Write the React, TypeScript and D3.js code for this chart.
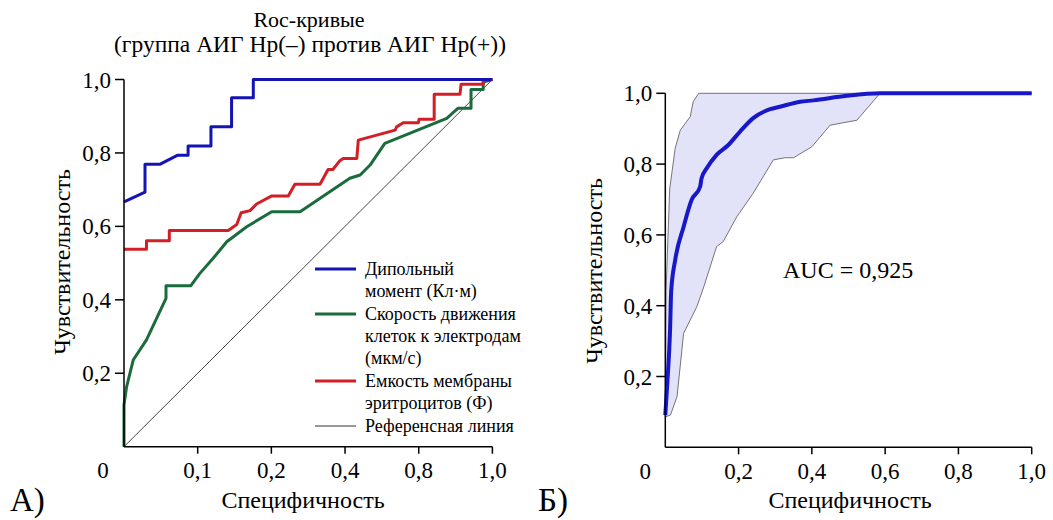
import React from "react";
import * as d3 from "d3";

// ---------- Data (x = 1 - specificity, y = sensitivity) ----------
const dipoleX = [0, 0.057, 0.057, 0.097, 0.146, 0.174, 0.174, 0.236, 0.236, 0.292, 0.292, 0.351, 0.351, 1.0];
const dipoleY = [0.667, 0.693, 0.769, 0.769, 0.794, 0.794, 0.819, 0.819, 0.871, 0.871, 0.95, 0.95, 1.0, 1.0];

const velocityX = [0, 0, 0.007, 0.025, 0.061, 0.114, 0.114, 0.181, 0.206, 0.242, 0.279, 0.333, 0.401, 0.478, 0.613, 0.641, 0.668, 0.708, 0.876, 0.907, 0.942, 0.942, 0.975, 0.975, 1.0];
const velocityY = [0, 0.114, 0.163, 0.236, 0.291, 0.404, 0.438, 0.438, 0.472, 0.513, 0.558, 0.599, 0.64, 0.64, 0.731, 0.74, 0.767, 0.826, 0.894, 0.922, 0.922, 0.973, 0.973, 0.993, 1.0];

const capacitanceX = [0, 0.061, 0.061, 0.123, 0.123, 0.283, 0.306, 0.318, 0.342, 0.36, 0.401, 0.446, 0.464, 0.532, 0.554, 0.567, 0.586, 0.595, 0.632, 0.636, 0.736, 0.74, 0.758, 0.799, 0.801, 0.842, 0.842, 0.912, 0.915, 0.975, 0.975, 1.0];
const capacitanceY = [0.538, 0.538, 0.561, 0.561, 0.589, 0.589, 0.605, 0.637, 0.643, 0.661, 0.683, 0.683, 0.715, 0.715, 0.755, 0.755, 0.779, 0.785, 0.785, 0.835, 0.862, 0.871, 0.882, 0.882, 0.892, 0.892, 0.96, 0.96, 0.987, 0.987, 1.0, 1.0];

const meanX = [0, 0.006, 0.013, 0.016, 0.027, 0.05, 0.072, 0.095, 0.099, 0.113, 0.14, 0.172, 0.204, 0.24, 0.286, 0.313, 0.368, 0.404, 0.495, 0.586, 1.0];
const meanY = [0.091, 0.19, 0.331, 0.44, 0.529, 0.623, 0.699, 0.736, 0.76, 0.788, 0.826, 0.854, 0.892, 0.93, 0.955, 0.962, 0.976, 0.98, 0.993, 1.0, 1.0];

const upperX = [0, 0.002, 0.012, 0.027, 0.041, 0.068, 0.076, 0.091, 1.0];
const upperY = [0.086, 0.44, 0.73, 0.845, 0.896, 0.934, 0.976, 1.0, 1.0];

const lowerX = [0, 0.014, 0.032, 0.05, 0.086, 0.104, 0.14, 0.158, 0.195, 0.24, 0.295, 0.327, 0.35, 0.4, 0.45, 0.523, 0.586, 1.0];
const lowerY = [0.086, 0.091, 0.143, 0.322, 0.397, 0.45, 0.567, 0.581, 0.651, 0.718, 0.812, 0.818, 0.818, 0.849, 0.91, 0.924, 1.0, 1.0];

const yTickValues = [0.2, 0.4, 0.6, 0.8, 1.0];
const yTickLabels = ["0,2", "0,4", "0,6", "0,8", "1,0"];
const leftXTickValues = [0.2, 0.4, 0.6, 0.8, 1.0];
const leftXTickLabels = ["0,1", "0,2", "0,4", "0,8", "1,0"];
const rightXTickValues = [0.2, 0.4, 0.6, 0.8, 1.0];
const rightXTickLabels = ["0,2", "0,4", "0,6", "0,8", "1,0"];

const legendItems = [
  { lines: ["Дипольный", "момент (Кл·м)"], color: "#1414b4", width: 3 },
  { lines: ["Скорость движения", "клеток к электродам", "(мкм/с)"], color: "#1b6b3c", width: 3 },
  { lines: ["Емкость мембраны", "эритроцитов (Ф)"], color: "#d21f26", width: 3 },
  { lines: ["Референсная линия"], color: "#333", width: 1 },
];

const FONT = '"Liberation Serif", "DejaVu Serif", serif';

const zip = (xs: number[], ys: number[]) => xs.map((x, i) => [x, ys[i]] as [number, number]);

export default function App() {
  const xL = d3.scaleLinear().domain([0, 1]).range([124, 492.4]);
  const yL = d3.scaleLinear().domain([0, 1]).range([446.7, 79.5]);
  const xR = d3.scaleLinear().domain([0, 1]).range([665.3, 1031.7]);
  const yR = d3.scaleLinear().domain([0, 1]).range([447.3, 93.3]);

  const lineL = d3.line<[number, number]>().x((d) => xL(d[0])).y((d) => yL(d[1]));
  const lineR = d3.line<[number, number]>().x((d) => xR(d[0])).y((d) => yR(d[1]));
  const smoothR = d3.line<[number, number]>().x((d) => xR(d[0])).y((d) => yR(d[1])).curve(d3.curveMonotoneX);

  const bandPts = zip(upperX, upperY).concat(zip(lowerX, lowerY).reverse());
  const bandPath = (lineR(bandPts) || "") + "Z";

  const tickFont = 23;
  const labelFont = 24;
  const tf = { fontFamily: FONT };

  const legendLineH = 22;
  let legendY = 269;
  const legendRows: { y: number; item: typeof legendItems[0] }[] = [];
  legendItems.forEach((it) => {
    legendRows.push({ y: legendY, item: it });
    legendY += it.lines.length * legendLineH + 1;
  });

  return (
    <svg
      width={1053}
      height={520}
      style={{ position: "absolute", left: 0, top: 0, background: "#fff", fontFamily: FONT }}
    >
      <rect x={0} y={0} width={1053} height={520} fill="#fff" />
      {/* ---------- Left panel ---------- */}
      <text style={tf} x={309} y={27} fontSize={22} textAnchor="middle">Roc-кривые</text>
      <text style={tf} x={310} y={52} fontSize={23.5} textAnchor="middle">(группа АИГ Hp(–) против АИГ Hp(+))</text>

      <line x1={xL(0)} y1={yL(0)} x2={xL(1)} y2={yL(1)} stroke="#333" strokeWidth={0.9} />
      <path d={lineL(zip(velocityX, velocityY)) || ""} fill="none" stroke="#1b6b3c" strokeWidth={3} strokeLinejoin="round" />
      <path d={lineL(zip(capacitanceX, capacitanceY)) || ""} fill="none" stroke="#d21f26" strokeWidth={3} strokeLinejoin="round" />
      <path d={lineL(zip(dipoleX, dipoleY)) || ""} fill="none" stroke="#1414b4" strokeWidth={3} strokeLinejoin="round" />

      <line x1={xL(0)} y1={yL(0)} x2={xL(0)} y2={yL(1)} stroke="#000" strokeWidth={1.5} />
      <line x1={xL(0)} y1={yL(0)} x2={xL(1)} y2={yL(0)} stroke="#000" strokeWidth={1.5} />
      {yTickValues.map((v, i) => (
        <g key={"ly" + i}>
          <line x1={xL(0) - 9} x2={xL(0)} y1={yL(v)} y2={yL(v)} stroke="#000" strokeWidth={1.5} />
          <text style={tf} x={xL(0) - 13} y={yL(v)} dy="0.35em" fontSize={tickFont} textAnchor="end">{yTickLabels[i]}</text>
        </g>
      ))}
      {leftXTickValues.map((v, i) => (
        <g key={"lx" + i}>
          <line x1={xL(v)} x2={xL(v)} y1={yL(0)} y2={yL(0) + 7} stroke="#000" strokeWidth={1.5} />
          <text style={tf} x={xL(v)} y={478} fontSize={tickFont} textAnchor="middle">{leftXTickLabels[i]}</text>
        </g>
      ))}
      <text style={tf} x={xL(0) - 21} y={478} fontSize={tickFont} textAnchor="middle">0</text>
      <text style={tf} x={303} y={508} fontSize={labelFont} textAnchor="middle">Специфичность</text>
      <text style={tf} transform="translate(70,262) rotate(-90)" fontSize={labelFont} textAnchor="middle">Чувствительность</text>
      <text style={tf} x={10} y={511} fontSize={33}>А)</text>

      {legendRows.map((r, i) => (
        <g key={"lg" + i}>
          <line x1={315} x2={356} y1={r.y} y2={r.y} stroke={r.item.color} strokeWidth={r.item.width} />
          {r.item.lines.map((t, j) => (
            <text style={tf} key={j} x={365} y={r.y + j * legendLineH} dy="0.35em" fontSize={18}>{t}</text>
          ))}
        </g>
      ))}

      {/* ---------- Right panel ---------- */}
      <path d={bandPath} fill="#e2e2f8" stroke="#555" strokeWidth={0.8} strokeLinejoin="round" />
      <path d={smoothR(zip(meanX, meanY)) || ""} fill="none" stroke="#1818c8" strokeWidth={4} strokeLinejoin="round" />

      <line x1={xR(0)} y1={yR(0)} x2={xR(0)} y2={yR(1)} stroke="#000" strokeWidth={1.5} />
      <line x1={xR(0)} y1={yR(0)} x2={xR(1)} y2={yR(0)} stroke="#000" strokeWidth={1.5} />
      {yTickValues.map((v, i) => (
        <g key={"ry" + i}>
          <line x1={xR(0) - 9} x2={xR(0)} y1={yR(v)} y2={yR(v)} stroke="#000" strokeWidth={1.5} />
          <text style={tf} x={xR(0) - 13} y={yR(v)} dy="0.35em" fontSize={tickFont} textAnchor="end">{yTickLabels[i]}</text>
        </g>
      ))}
      {rightXTickValues.map((v, i) => (
        <g key={"rx" + i}>
          <line x1={xR(v)} x2={xR(v)} y1={yR(0)} y2={yR(0) + 7} stroke="#000" strokeWidth={1.5} />
          <text style={tf} x={xR(v)} y={479} fontSize={tickFont} textAnchor="middle">{rightXTickLabels[i]}</text>
        </g>
      ))}
      <text style={tf} x={xR(0) - 20} y={479} fontSize={tickFont} textAnchor="middle">0</text>
      <text style={tf} x={850} y={508} fontSize={labelFont} textAnchor="middle">Специфичность</text>
      <text style={tf} transform="translate(602,271) rotate(-90)" fontSize={labelFont} textAnchor="middle">Чувствительность</text>
      <text style={tf} x={538} y={511} fontSize={33}>Б)</text>
      <text style={tf} x={783} y={278} fontSize={24}>AUC = 0,925</text>
    </svg>
  );
}
